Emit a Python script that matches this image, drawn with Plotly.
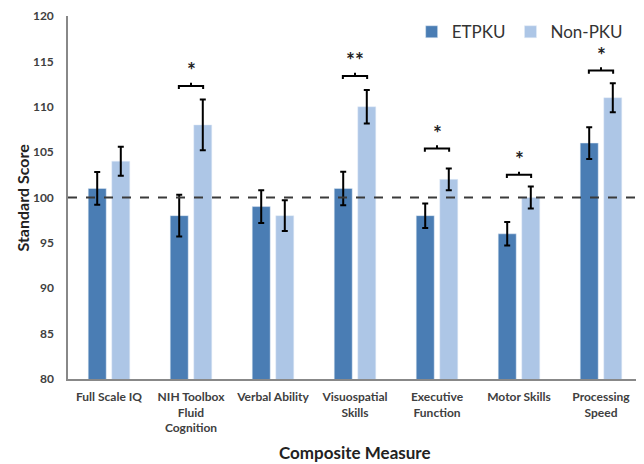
import plotly.graph_objects as go

categories = ["Full Scale IQ", "NIH Toolbox<br>Fluid<br>Cognition", "Verbal Ability",
              "Visuospatial<br>Skills", "Executive<br>Function", "Motor Skills",
              "Processing<br>Speed"]
etpku = [101, 98, 99, 101, 98, 96, 106]
etpku_err = [1.8, 2.3, 1.8, 1.85, 1.35, 1.3, 1.75]
nonpku = [104, 108, 98, 110, 102, 100, 111]
nonpku_err = [1.6, 2.8, 1.7, 1.85, 1.2, 1.2, 1.6]

# significance markers: (category index, bracket y, label)
sig_idx = [1, 3, 4, 5, 6]
sig_y = [112.3, 113.4, 105.4, 102.5, 114.0]
sig_lbl = ["*", "**", "*", "*", "*"]

DARK = "#4a7db4"
LIGHT = "#adc6e6"
FONT = "Lato"

fig = go.Figure()
fig.add_trace(go.Bar(
    name="ETPKU", x=categories, y=etpku, marker_color=DARK,
    error_y=dict(type="data", array=etpku_err, color="black", thickness=2, width=3),
))
fig.add_trace(go.Bar(
    name="Non-PKU", x=categories, y=nonpku, marker_color=LIGHT,
    error_y=dict(type="data", array=nonpku_err, color="black", thickness=2, width=3),
))

shapes = [dict(type="line", xref="paper", x0=0, x1=0.995, yref="y", y0=100, y1=100,
               line=dict(color="#3a3a3a", width=2, dash="dash"), layer="above")]
annotations = []
half = 0.148
for i, y, lbl in zip(sig_idx, sig_y, sig_lbl):
    d = 0.35
    path = (f"M {i-half},{y-d} L {i-half},{y} L {i+half},{y} L {i+half},{y-d} "
            f"M {i},{y} L {i},{y+d}")
    shapes.append(dict(type="path", xref="x", yref="y", path=path,
                       line=dict(color="black", width=2)))
    annotations.append(dict(x=i, y=y + 0.2, xref="x", yref="y", text=lbl,
                            showarrow=False, yanchor="bottom",
                            font=dict(family=FONT, size=21, color="#222", weight="bold")))

annotations.append(dict(text="Standard Score", xref="paper", yref="paper",
                        x=-0.0801, y=0.5, xanchor="center", yanchor="middle",
                        textangle=-90, showarrow=False,
                        font=dict(family=FONT, size=16, color="#222", weight="bold")))
annotations.append(dict(text="Composite Measure", xref="paper", yref="paper",
                        x=0.5, y=0, yanchor="middle", yshift=-73, showarrow=False,
                        font=dict(family=FONT, size=17, color="#222", weight="bold")))

fig.update_layout(
    width=636, height=456,
    margin=dict(l=60, r=2, t=8, b=85),
    paper_bgcolor="white", plot_bgcolor="white",
    barmode="group", bargap=0.425, bargroupgap=0.236,
    font=dict(family=FONT, color="#404040"),
    shapes=shapes, annotations=annotations,
    legend=dict(orientation="h", x=0.975, xanchor="right", y=1.005, yanchor="top",
                font=dict(family=FONT, size=17, color="#333"), bgcolor="rgba(0,0,0,0)"),
    xaxis=dict(showline=True, linecolor="#888", linewidth=1.5, showgrid=False,
               ticks="", ticklabelstandoff=6,
               tickfont=dict(family=FONT, size=12, color="#404040", weight="bold"),
               automargin=False),
    yaxis=dict(range=[80, 120], tickvals=[80, 85, 90, 95, 100, 105, 110, 115, 120],
               showline=True, linecolor="#888", linewidth=1.5, showgrid=False,
               zeroline=False, ticks="", ticklabelstandoff=10, ticklabeloverflow="allow",
               tickfont=dict(family=FONT, size=12, color="#404040", weight="bold"),
               automargin=False),
)

fig.write_html("out.html")
